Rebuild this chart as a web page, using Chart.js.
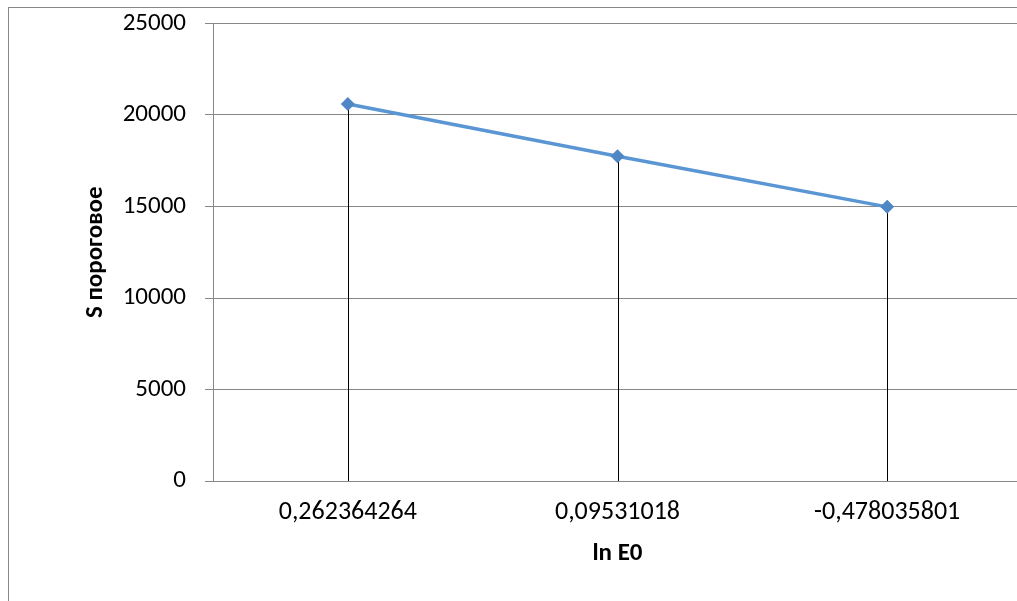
<!DOCTYPE html>
<html>
<head>
<meta charset="utf-8">
<script src="https://cdn.jsdelivr.net/npm/chart.js@4/dist/chart.umd.min.js"></script>
<style>
  html, body { margin: 0; padding: 0; background: #fff; overflow: hidden; width: 1017px; height: 601px; }
  #frame { position: absolute; left: 8px; top: 7px; width: 1200px; height: 800px; border: 1px solid #888; box-sizing: border-box; }
  #wrap { position: absolute; left: 0; top: 0; width: 1040px; height: 601px; }
</style>
</head>
<body>
<div id="frame"></div>
<div id="wrap"><canvas id="c" width="1040" height="601"></canvas></div>
<script>
const categories = ['0,262364264', '0,09531018', '-0,478035801'];
const values = [20600, 17750, 14980];
const yTicks = [0, 5000, 10000, 15000, 20000, 25000];
const xTitle = 'ln E0';
const yTitle = 'S пороговое';

const FONT = "Carlito, Lato, 'Open Sans', sans-serif";

const dropLines = {
  id: 'dropLines',
  beforeDatasetsDraw(chart) {
    const ctx = chart.ctx;
    const meta = chart.getDatasetMeta(0);
    const bottom = chart.scales.y.getPixelForValue(0);
    ctx.save();
    ctx.strokeStyle = '#000';
    ctx.lineWidth = 1;
    meta.data.forEach(pt => {
      const x = Math.round(pt.x) + 0.5;
      ctx.beginPath();
      ctx.moveTo(x, pt.y);
      ctx.lineTo(x, bottom);
      ctx.stroke();
    });
    ctx.restore();
  }
};

new Chart(document.getElementById('c'), {
  type: 'line',
  data: {
    labels: categories,
    datasets: [{
      data: values,
      borderColor: '#5A96D3',
      borderWidth: 3.5,
      pointStyle: 'rectRot',
      pointRadius: 7,
      pointBackgroundColor: '#4F86C6',
      pointBorderColor: '#4F86C6',
      pointBorderWidth: 0,
      tension: 0,
      fill: false
    }]
  },
  options: {
    responsive: false,
    animation: false,
    devicePixelRatio: 1,
    layout: { padding: { left: 9, top: 23.5, right: 18, bottom: 0 } },
    plugins: { legend: { display: false }, tooltip: { enabled: false } },
    scales: {
      x: {
        offset: true,
        grid: { display: false, drawTicks: false },
        border: { display: false },
        ticks: { color: '#000', font: { family: FONT, size: 26 }, padding: 16, maxRotation: 0, autoSkip: false },
        title: { display: true, text: xTitle, color: '#000', font: { family: FONT, size: 25, weight: 'bold' }, padding: { top: 0, bottom: 32 } },
        afterFit(scale) { scale.height = 120; scale.paddingLeft = 0; scale.paddingRight = 0; }
      },
      y: {
        min: 0, max: 25000,
        afterBuildTicks(scale) { scale.ticks = yTicks.map(v => ({ value: v })); },
        grid: { color: '#888', lineWidth: 1, drawTicks: true, tickLength: 8, tickColor: '#888' },
        border: { display: true, color: '#888', width: 1 },
        ticks: { color: '#000', font: { family: FONT, size: 25 }, padding: 19, callback: v => String(v) },
        title: { display: true, text: yTitle, color: '#000', font: { family: FONT, size: 25, weight: 'bold' }, padding: { top: 72, bottom: 0 } },
        afterFit(scale) { scale.width = 204; scale.paddingTop = 0; scale.paddingBottom = 0; }
      }
    }
  },
  plugins: [dropLines]
});
</script>
</body>
</html>
